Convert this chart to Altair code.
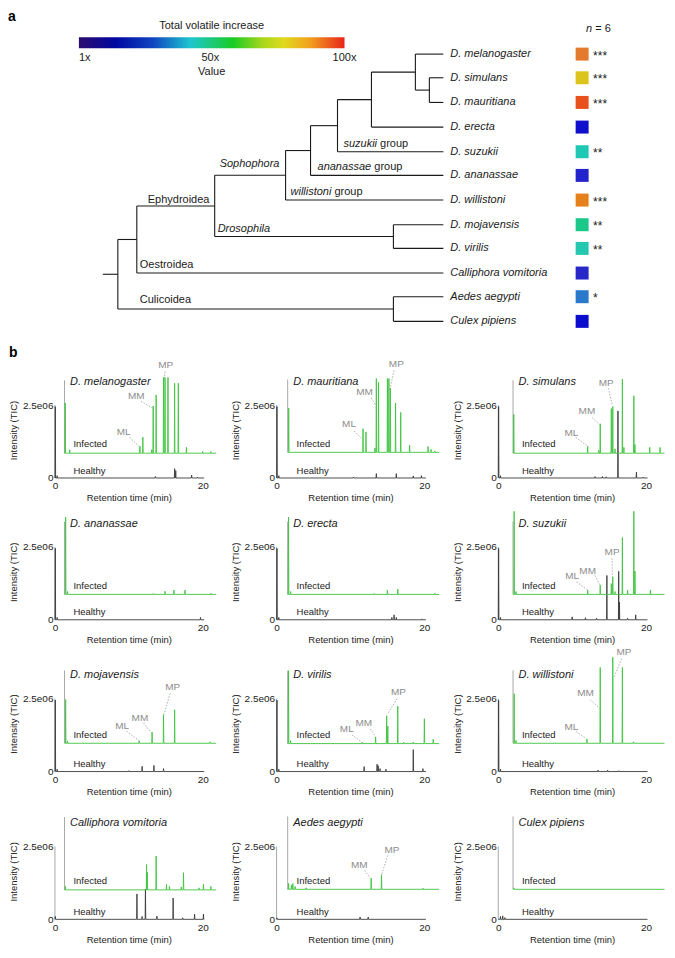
import altair as alt
import pandas as pd

FONT = "Liberation Sans"
INK = "#1a1a1a"
GREEN = "#3fc43f"
HEALTHY_INK = "#3a3a3a"
AXIS_GRAY = "#a8a8a8"
NOTE_GRAY = "#8c8c8c"

# ------------------------------------------------------------------ panel a data
SPECIES = ["D. melanogaster", "D. simulans", "D. mauritiana", "D. erecta", "D. suzukii",
           "D. ananassae", "D. willistoni", "D. mojavensis", "D. virilis",
           "Calliphora vomitoria", "Aedes aegypti", "Culex pipiens"]
SQUARE_COLORS = ["#e47a2c", "#dcc41c", "#e8501c", "#1010cc", "#1ec8b4", "#2424cc",
                 "#e6801a", "#1ac88a", "#24c8b0", "#2828c8", "#2a7acc", "#0c0ccc"]
STARS = ["***", "***", "***", "", "**", "", "***", "**", "**", "", "*", ""]
LEAF_Y = [50, 74, 99, 124, 149, 173, 198, 223, 247, 272, 296, 321]
LEAF_X = 437
LEAF_LABEL_X = 444
SQUARE_X = 576
STAR_X = 587

NODE_NAMES = ["root", "schizo", "ephyd", "sopho", "n304", "n331", "n365",
              "melgrp", "simmau", "droso", "culic"]
NODE_X = [111, 130, 208, 279, 304, 331, 365, 409, 423, 387, 387]
NODE_CHILDREN = [["schizo", "culic"], ["ephyd", "Calliphora vomitoria"], ["sopho", "droso"],
                 ["n304", "D. willistoni"], ["n331", "D. ananassae"], ["n365", "D. suzukii"],
                 ["melgrp", "D. erecta"], ["D. melanogaster", "simmau"],
                 ["D. simulans", "D. mauritiana"], ["D. mojavensis", "D. virilis"],
                 ["Aedes aegypti", "Culex pipiens"]]
ROOT_STUB_X = 96

CLADE_ITALIC = ["", "Sophophora", "Drosophila", "willistoni", "ananassae", "suzukii", "", ""]
CLADE_PLAIN = ["Ephydroidea", "", "", "group", "group", "group", "Oestroidea", "Culicoidea"]
CLADE_X = [141, 213, 211, 284, 311, 337, 133, 133]
CLADE_Y = [198, 161, 227, 190, 164, 141, 264, 299]

CBAR_X = [72, 338]
CBAR_Y = [33, 44]
CBAR_STOP_OFFSETS = [0.0, 0.14, 0.28, 0.42, 0.58, 0.69, 0.77, 0.87, 1.0]
CBAR_STOP_COLORS = ["#2c0c70", "#0008a0", "#1046c0", "#1ec6d0", "#18cc24",
                    "#a6d61c", "#e0da1c", "#f2a01e", "#e8241a"]
CBAR_TICKS = [1, 50, 100]
CBAR_TICK_LABELS = ["1x", "50x", "100x"]

# ------------------------------------------------------------------ panel b data
PANEL_TITLES = ["D. melanogaster", "D. mauritiana", "D. simulans",
                "D. ananassae", "D. erecta", "D. suzukii",
                "D. mojavensis", "D. virilis", "D. willistoni",
                "Calliphora vomitoria", "Aedes aegypti", "Culex pipiens"]

# peaks: (retention time min, intensity in 1e6 TIC)
MEL_INFECTED = [(0.1, 1.72), (0.7, 0.12), (10.2, 0.24), (10.6, 0.55), (11.8, 0.12), (12.0, 1.62),
                (12.4, 2.0), (13.4, 2.6), (13.6, 2.6), (14.0, 2.6), (14.9, 2.4), (15.4, 2.4),
                (16.5, 0.2), (18.7, 0.06), (19.8, 0.06)]
MEL_HEALTHY = [(0.05, 2.45), (0.3, 0.08), (13.6, 0.05), (16.2, 0.32), (16.35, 0.25), (18.5, 0.1),
               (19.3, 0.03)]
MAU_INFECTED = [(0.14, 1.52), (10.2, 0.81), (10.6, 0.7), (11.8, 0.15), (12.0, 2.53), (12.3, 2.4),
                (13.5, 2.53), (13.7, 2.53), (13.9, 2.2), (14.6, 1.69), (15.3, 1.37), (16.5, 0.25),
                (19.0, 0.2), (19.4, 0.1), (19.9, 0.05)]
MAU_HEALTHY = [(0.05, 2.45), (0.3, 0.08), (10.4, 0.03), (13.5, 0.15), (16.2, 0.15), (18.5, 0.07),
               (19.6, 0.08)]
SIM_INFECTED = [(0.1, 1.33), (10.1, 0.24), (11.6, 0.1), (11.8, 1.01), (13.3, 1.53), (13.5, 1.6),
                (13.8, 0.15), (14.8, 2.54), (15.0, 0.2), (16.35, 1.97), (16.5, 0.3), (18.5, 0.2),
                (19.9, 0.2)]
SIM_HEALTHY = [(0.05, 2.45), (0.3, 0.08), (13.1, 0.05), (14.1, 0.05), (14.6, 0.04), (16.2, 2.3),
               (18.7, 0.2), (19.6, 0.03)]
ANA_INFECTED = [(0.15, 2.65), (0.4, 0.1), (12.0, 0.03), (13.6, 0.11), (14.8, 0.15), (16.3, 0.15),
                (19.8, 0.04)]
ANA_HEALTHY = [(0.05, 2.45), (0.3, 0.08), (19.7, 0.08)]
ERE_INFECTED = [(0.12, 2.65), (0.4, 0.1), (11.7, 0.03), (13.5, 0.15), (14.9, 0.18), (19.9, 0.04)]
ERE_HEALTHY = [(0.05, 2.45), (0.3, 0.08), (15.6, 0.08), (15.9, 0.17), (16.2, 0.08), (19.7, 0.03)]
SUZ_INFECTED = [(0.15, 2.85), (0.4, 0.1), (10.1, 0.15), (11.8, 0.32), (13.3, 0.37), (13.5, 0.6),
                (13.8, 0.1), (14.8, 1.95), (15.5, 0.15), (16.35, 2.85), (16.5, 0.8), (18.6, 0.15)]
SUZ_HEALTHY = [(0.05, 2.45), (0.3, 0.08), (10.0, 0.1), (11.8, 0.07), (13.3, 0.05), (14.7, 1.52),
               (16.3, 1.66), (16.4, 0.6), (17.5, 0.05), (18.6, 0.17)]
MOJ_INFECTED = [(0.15, 1.5), (0.4, 0.08), (10.1, 0.08), (11.85, 0.38), (13.4, 0.98), (14.9, 1.15),
                (19.7, 0.05)]
MOJ_HEALTHY = [(0.05, 2.45), (0.3, 0.08), (10.0, 0.03), (11.8, 0.18), (13.4, 0.21), (14.7, 0.1)]
VIR_INFECTED = [(0.12, 2.5), (0.4, 0.1), (10.1, 0.05), (11.9, 0.23), (13.4, 0.95), (13.55, 0.6),
                (14.9, 1.28), (15.7, 0.05), (17.0, 0.05), (18.5, 0.85), (19.7, 0.15)]
VIR_HEALTHY = [(0.05, 2.45), (0.3, 0.08), (11.85, 0.17), (13.6, 0.25), (13.75, 0.2), (14.0, 0.1),
               (14.8, 0.08), (18.5, 0.75), (19.8, 0.1)]
WIL_INFECTED = [(0.15, 1.7), (0.4, 0.1), (10.0, 0.15), (11.8, 2.6), (13.5, 2.95), (14.8, 2.6),
                (16.3, 0.05)]
WIL_HEALTHY = [(0.05, 2.45), (0.3, 0.08), (13.5, 0.05), (14.8, 0.05), (16.3, 0.03)]
CAL_INFECTED = [(0.12, 0.12), (11.1, 0.87), (11.2, 0.6), (12.4, 1.16), (13.8, 0.19), (14.2, 0.12),
                (15.8, 0.1), (16.1, 0.59), (18.2, 0.07), (18.8, 0.19), (19.8, 0.12)]
CAL_HEALTHY = [(0.05, 0.1), (11.1, 0.87), (11.8, 0.1), (12.25, 1.04), (13.8, 0.11), (16.0, 0.73),
               (17.3, 0.05), (18.9, 0.18), (20.1, 0.18)]
AED_INFECTED = [(0.12, 0.2), (0.5, 0.15), (0.7, 0.2), (1.0, 0.1), (2.5, 0.05), (11.3, 0.38),
                (12.7, 0.5), (18.3, 0.04)]
AED_HEALTHY = [(0.05, 0.05), (11.3, 0.08), (12.4, 0.08)]
CUL_INFECTED = [(0.1, 0.05)]
CUL_HEALTHY = [(0.3, 0.1), (0.6, 0.12), (0.9, 0.06)]

# compound labels: (name, label t, label I, leader start t, I, leader end t, I), infected coords
MEL_MARKERS = [("MP", 13.7, 3.02, 13.6, 2.8, 13.5, 2.55), ("MM", 9.7, 1.95, 10.35, 1.78, 11.9, 1.55),
               ("ML", 8.0, 0.73, 8.8, 0.54, 10.1, 0.24)]
MAU_MARKERS = [("MP", 14.7, 3.02, 14.4, 2.81, 13.8, 2.14), ("MM", 10.4, 2.08, 11.3, 1.86, 11.9, 1.63),
               ("ML", 8.3, 0.96, 9.0, 0.73, 10.1, 0.45)]
SIM_MARKERS = [("MP", 12.6, 2.42, 12.9, 2.23, 13.45, 1.63), ("MM", 10.0, 1.44, 10.7, 1.22, 11.7, 0.99),
               ("ML", 7.9, 0.71, 8.5, 0.54, 10.0, 0.26)]
SUZ_MARKERS = [("MP", 13.4, 1.44, 13.4, 1.24, 13.45, 0.6), ("MM", 10.1, 0.82, 11.1, 0.65, 11.8, 0.31),
               ("ML", 8.0, 0.63, 8.6, 0.43, 10.1, 0.15)]
MOJ_MARKERS = [("MP", 14.65, 1.94, 14.3, 1.71, 13.45, 0.98), ("MM", 10.2, 0.87, 10.7, 0.7, 11.75, 0.36),
               ("ML", 7.8, 0.59, 8.4, 0.42, 10.1, 0.08)]
VIR_MARKERS = [("MP", 15.0, 1.77, 14.8, 1.54, 13.5, 1.0), ("MM", 10.3, 0.7, 11.2, 0.5, 11.85, 0.25),
               ("ML", 8.0, 0.5, 8.7, 0.3, 10.0, 0.05)]
WIL_MARKERS = [("MP", 15.0, 3.12, 14.7, 2.9, 13.7, 2.29), ("MM", 9.8, 1.71, 10.45, 1.49, 11.7, 1.2),
               ("ML", 7.9, 0.56, 8.55, 0.4, 9.9, 0.16)]
AED_MARKERS = [("MP", 14.1, 1.36, 13.55, 1.16, 12.7, 0.5), ("MM", 9.7, 0.85, 10.4, 0.65, 11.2, 0.38)]

INFECTED = [MEL_INFECTED, MAU_INFECTED, SIM_INFECTED, ANA_INFECTED, ERE_INFECTED, SUZ_INFECTED,
            MOJ_INFECTED, VIR_INFECTED, WIL_INFECTED, CAL_INFECTED, AED_INFECTED, CUL_INFECTED]
HEALTHY = [MEL_HEALTHY, MAU_HEALTHY, SIM_HEALTHY, ANA_HEALTHY, ERE_HEALTHY, SUZ_HEALTHY,
           MOJ_HEALTHY, VIR_HEALTHY, WIL_HEALTHY, CAL_HEALTHY, AED_HEALTHY, CUL_HEALTHY]
MARKERS = [MEL_MARKERS, MAU_MARKERS, SIM_MARKERS, [], [], SUZ_MARKERS,
           MOJ_MARKERS, VIR_MARKERS, WIL_MARKERS, [], AED_MARKERS, []]

# waterfall offsets of the infected trace (min, 1e6 TIC)
X_OFF = [1.3, 1.5, 2.0]
Y_OFF = [0.85, 0.88, 0.85, 0.87, 0.87, 0.87, 0.97, 0.96, 0.97, 1.01, 1.03, 1.03]
INFECTED_END = 20.5
HEALTHY_END = 20.2

# layout
ROW_H = [122, 104, 114, 110]
ROW_GAP = 38
PX_PER_UNIT = 73 / 2.5e6
PANEL_W = 148
TREE_X0 = 48          # tree x-units that sit on the left edge of the panel-b plots
TREE_W = 562
TREE_Y = [6, 332]
TREE_H = 322

ARIAL_W = {'a': .556, 'b': .556, 'c': .5, 'd': .556, 'e': .556, 'f': .278, 'g': .556, 'h': .556,
           'i': .222, 'j': .222, 'k': .5, 'l': .222, 'm': .833, 'n': .556, 'o': .556, 'p': .556,
           'q': .556, 'r': .333, 's': .5, 't': .278, 'u': .556, 'v': .5, 'w': .722, 'x': .5,
           'y': .5, 'z': .5, ' ': .278}


def text_w(s, size):
    return sum(ARIAL_W.get(ch, .556) for ch in s) * size


# ------------------------------------------------------------------ panel a (tree)
pos = {s: (LEAF_X, y) for s, y in zip(SPECIES, LEAF_Y)}


def place(n):
    if n in pos:
        return pos[n]
    k = NODE_NAMES.index(n)
    ys = [place(c)[1] for c in NODE_CHILDREN[k]]
    pos[n] = (NODE_X[k], (min(ys) + max(ys)) / 2)
    return pos[n]


place("root")
segs = []
for k, n in enumerate(NODE_NAMES):
    x, _ = pos[n]
    cy = [pos[c][1] for c in NODE_CHILDREN[k]]
    segs.append(dict(x=x, x2=x, y=min(cy), y2=max(cy)))
    for c in NODE_CHILDREN[k]:
        segs.append(dict(x=x, x2=pos[c][0], y=pos[c][1], y2=pos[c][1]))
segs.append(dict(x=ROOT_STUB_X, x2=pos["root"][0], y=pos["root"][1], y2=pos["root"][1]))
seg_df = pd.DataFrame(segs)

TXS = alt.Scale(domain=[TREE_X0, TREE_X0 + TREE_W], nice=False, zero=False)
TYS = alt.Scale(domain=TREE_Y, nice=False, zero=False, reverse=True)


def tx(f):
    return alt.X(f, type="quantitative", scale=TXS, axis=None)


def ty(f):
    return alt.Y(f, type="quantitative", scale=TYS, axis=None)


def ttext(df, **kw):
    opts = dict(font=FONT, fontSize=11, color=INK, align="left", baseline="middle")
    opts.update(kw)
    return alt.Chart(df).mark_text(**opts).encode(x=tx("x"), y=ty("y"), text="t:N")


tree_lines = alt.Chart(seg_df).mark_rule(color=INK, strokeWidth=1.1).encode(
    x=tx("x"), x2=alt.X2("x2"), y=ty("y"), y2=alt.Y2("y2"))

leaf_df = pd.DataFrame({"x": [LEAF_LABEL_X] * len(SPECIES), "y": LEAF_Y, "t": SPECIES})
leaf_text = ttext(leaf_df, fontStyle="italic")

sq_df = pd.DataFrame({"x": [SQUARE_X] * len(SPECIES), "y": LEAF_Y, "c": SQUARE_COLORS})
squares = alt.Chart(sq_df).mark_square(size=169, opacity=1).encode(
    x=tx("x"), y=ty("y"), color=alt.Color("c:N", scale=None))

star_df = pd.DataFrame({"x": [STAR_X] * len(SPECIES), "y": LEAF_Y, "t": STARS})
stars = ttext(star_df, fontSize=12, dy=1.5)

n_df_i = pd.DataFrame({"x": [580], "y": [25], "t": ["n"]})
n_df_p = pd.DataFrame({"x": [580 + text_w("n ", 11)], "y": [25], "t": ["= 6"]})
n_text = ttext(n_df_i, fontStyle="italic") + ttext(n_df_p)

ci_rows, cp_rows = [], []
for it, pl, x, y in zip(CLADE_ITALIC, CLADE_PLAIN, CLADE_X, CLADE_Y):
    if it:
        ci_rows.append(dict(x=x, y=y, t=it))
    if pl:
        px = x + (text_w(it + " ", 11) if it else 0)
        cp_rows.append(dict(x=px, y=y, t=pl))
clade_text = ttext(pd.DataFrame(ci_rows), fontStyle="italic") + ttext(pd.DataFrame(cp_rows))

grad = alt.LinearGradient(
    gradient="linear", x1=0, x2=1, y1=0, y2=0,
    stops=[alt.GradientStop(offset=o, color=c) for o, c in zip(CBAR_STOP_OFFSETS, CBAR_STOP_COLORS)])
cbar_df = pd.DataFrame({"x": [CBAR_X[0]], "x2": [CBAR_X[1]], "y": [CBAR_Y[0]], "y2": [CBAR_Y[1]]})
cbar = alt.Chart(cbar_df).mark_rect(fill=grad).encode(
    x=tx("x"), x2=alt.X2("x2"), y=ty("y"), y2=alt.Y2("y2"))

tick_x = [CBAR_X[0] + (v - CBAR_TICKS[0]) / (CBAR_TICKS[-1] - CBAR_TICKS[0]) * (CBAR_X[1] - CBAR_X[0])
          for v in CBAR_TICKS]
cb_first = ttext(pd.DataFrame({"x": tick_x[:1], "y": [53.5], "t": CBAR_TICK_LABELS[:1]}))
cb_rest = ttext(pd.DataFrame({"x": tick_x[1:], "y": [53.5] * 2, "t": CBAR_TICK_LABELS[1:]}),
                align="center")
cb_mid = (CBAR_X[0] + CBAR_X[1]) / 2
cb_titles = ttext(pd.DataFrame({"x": [cb_mid, cb_mid], "y": [21.5, 68.5],
                                "t": ["Total volatile increase", "Value"]}), align="center")
a_label = ttext(pd.DataFrame({"x": [1], "y": [16], "t": ["a"]}), fontSize=14, fontWeight="bold",
                baseline="alphabetic", color="#000000")

tree = alt.layer(tree_lines, leaf_text, squares, stars, n_text, clade_text, cbar,
                 cb_first, cb_rest, cb_titles, a_label).properties(width=TREE_W, height=TREE_H)


# ------------------------------------------------------------------ panel b (chromatograms)
def trace_df(peaks, t_end, dx, dy):
    pts = [(0.0, 0.0)]
    for t, h in peaks:
        pts += [(t - 0.04, 0.0), (t, h), (t + 0.04, 0.0)]
    pts.append((t_end, 0.0))
    return pd.DataFrame([{"x": dx + t, "y": dy + v * 1e6, "i": k} for k, (t, v) in enumerate(pts)])


def panel(i):
    row, col = divmod(i, 3)
    H = ROW_H[row]
    ymax = H / PX_PER_UNIT
    xo = X_OFF[col]
    yo = Y_OFF[i] * 1e6
    xs = alt.Scale(domain=[0, 20], nice=False, zero=False)
    ys = alt.Scale(domain=[0, ymax], nice=False, zero=False)
    xaxis = alt.Axis(values=[0, 20], title="Retention time (min)", labelFlush=False,
                     labelPadding=3, titlePadding=2, domain=False, ticks=False, grid=False)
    yaxis = alt.Axis(values=[0, 2.5e6], labelExpr="datum.value == 0 ? '0' : '2.5e06'",
                     title="Intensity (TIC)", titleX=-41, titleY=H - 48, titleAngle=270,
                     titleBaseline="middle", titleAlign="center", labelPadding=2,
                     domain=False, ticks=False, grid=False)

    def X(f):
        return alt.X(f, type="quantitative", scale=xs, axis=xaxis)

    def Y(f):
        return alt.Y(f, type="quantitative", scale=ys, axis=yaxis)

    ax_df = pd.DataFrame({"x": [0.0, xo], "y": [0.0, yo], "y2": [2.5e6, yo + 2.5e6]})
    axes = alt.Chart(ax_df).mark_rule(color=AXIS_GRAY, strokeWidth=1).encode(
        x=X("x"), y=Y("y"), y2=alt.Y2("y2"))

    h_line = alt.Chart(trace_df(HEALTHY[i], HEALTHY_END, 0.0, 0.0)).mark_line(
        color=HEALTHY_INK, strokeWidth=0.9).encode(x=X("x"), y=Y("y"), order="i:Q")
    i_line = alt.Chart(trace_df(INFECTED[i], INFECTED_END, xo, yo)).mark_line(
        color=GREEN, strokeWidth=0.9).encode(x=X("x"), y=Y("y"), order="i:Q")

    title_df = pd.DataFrame({"x": [xo + 0.75], "y": [3.3e6], "t": [PANEL_TITLES[i]]})
    title = alt.Chart(title_df).mark_text(font=FONT, fontSize=11, fontStyle="italic", color=INK,
                                          align="left", baseline="middle").encode(
        x=X("x"), y=Y("y"), text="t:N")
    lab_df = pd.DataFrame({"x": [xo + 1.2, xo + 1.2], "y": [yo + 0.3e6, 0.25e6],
                           "t": ["Infected", "Healthy"]})
    labs = alt.Chart(lab_df).mark_text(font=FONT, fontSize=9.5, color=INK, align="left",
                                       baseline="middle").encode(x=X("x"), y=Y("y"), text="t:N")
    layers = [axes, h_line, i_line, title, labs]

    if MARKERS[i]:
        m = MARKERS[i]
        lead_df = pd.DataFrame({"x": [xo + r[3] for r in m], "y": [yo + r[4] * 1e6 for r in m],
                                "x2": [xo + r[5] for r in m], "y2": [yo + r[6] * 1e6 for r in m]})
        leads = alt.Chart(lead_df).mark_rule(color="#9a9a9a", strokeWidth=0.8,
                                             strokeDash=[1.5, 1.5]).encode(
            x=X("x"), y=Y("y"), x2=alt.X2("x2"), y2=alt.Y2("y2"))
        ml_df = pd.DataFrame({"x": [xo + r[1] for r in m], "y": [yo + r[2] * 1e6 for r in m],
                              "t": [r[0] for r in m]})
        mlab = alt.Chart(ml_df).mark_text(font=FONT, fontSize=10, color=NOTE_GRAY, align="center",
                                          baseline="middle").encode(x=X("x"), y=Y("y"), text="t:N")
        layers += [leads, mlab]

    if i == 0:
        b_df = pd.DataFrame({"t": ["b"]})
        b_lab = alt.Chart(b_df).mark_text(font=FONT, fontSize=14, fontWeight="bold", color="#000000",
                                          align="left", baseline="alphabetic").encode(
            x=alt.value(-46), y=alt.value(H - 121), text="t:N")
        layers.append(b_lab)

    return alt.layer(*layers).properties(width=PANEL_W, height=H)


grid = alt.concat(*[panel(i) for i in range(12)], columns=3,
                  spacing={"row": ROW_GAP, "column": 74}, bounds="flush")

chart = alt.vconcat(tree, grid, spacing=14, padding=0, background="white").configure(
    font=FONT).configure_view(strokeWidth=0).configure_axis(
    labelFont=FONT, titleFont=FONT, labelFontSize=10, titleFontSize=9.5,
    titleFontWeight="normal", labelColor="#222222", titleColor="#222222")

chart.save("out.html", embed_options={"renderer": "svg", "actions": False})
